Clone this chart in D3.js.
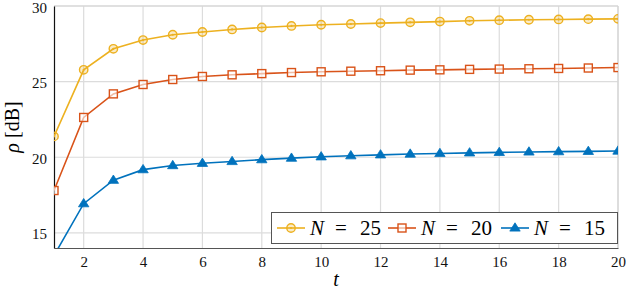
<!DOCTYPE html>
<html><head><meta charset="utf-8">
<script src="https://cdn.jsdelivr.net/npm/d3@7"></script>
<style>body{margin:0;background:#fff}svg{display:block}</style>
</head><body><svg id="c" width="626" height="290" font-family="Liberation Serif"></svg>
<script>
const t = [1,2,3,4,5,6,7,8,9,10,11,12,13,14,15,16,17,18,19,20];
const n25 = [21.38,25.78,27.17,27.75,28.1,28.28,28.45,28.58,28.68,28.76,28.81,28.87,28.92,28.97,29.02,29.06,29.09,29.11,29.13,29.15];
const n20 = [17.8,22.63,24.19,24.81,25.14,25.34,25.45,25.53,25.6,25.65,25.69,25.72,25.76,25.78,25.81,25.83,25.85,25.87,25.9,25.93];
const n15 = [13.5,16.93,18.48,19.18,19.45,19.6,19.72,19.84,19.94,20.03,20.1,20.16,20.21,20.25,20.29,20.32,20.35,20.37,20.39,20.41];
const xTicks = [2,4,6,8,10,12,14,16,18,20];
const yTicks = [15,20,25,30];
const seriesNames = ["25","20","15"];

const svg = d3.select("#c");
const L=54,R=618,T=6,B=248;
const x = d3.scaleLinear().domain([1,20]).range([L,R]);
const y = d3.scaleLinear().domain([14,30]).range([B,T]);
const FF = "Liberation Serif";

svg.append("defs").append("clipPath").attr("id","pc").append("rect")
  .attr("x",L).attr("y",T).attr("width",R-L).attr("height",B-T);

// grid
const g = svg.append("g");
g.selectAll(".vx").data(xTicks).join("line").attr("x1",d=>x(d)).attr("x2",d=>x(d)).attr("y1",T).attr("y2",B)
  .attr("stroke","#dcdcdc").attr("stroke-width",1.2);
g.selectAll(".hy").data(yTicks).join("line").attr("y1",d=>y(d)).attr("y2",d=>y(d)).attr("x1",L).attr("x2",R)
  .attr("stroke","#dcdcdc").attr("stroke-width",1.2);
g.append("line").attr("x1",L).attr("x2",R).attr("y1",T).attr("y2",T).attr("stroke","#d4d4d4").attr("stroke-width",1.2);
g.append("line").attr("x1",R).attr("x2",R).attr("y1",T).attr("y2",B).attr("stroke","#d4d4d4").attr("stroke-width",1.2);

// axes
const xa = d3.axisBottom(x).tickValues(xTicks).tickSize(0).tickPadding(8);
const ya = d3.axisLeft(y).tickValues(yTicks).tickSize(0).tickPadding(7);
const gx = svg.append("g").attr("transform",`translate(0,${B})`).call(xa);
gx.attr("font-family",FF).attr("font-size",15);
gx.select(".domain").attr("stroke","#555").attr("stroke-width",1.2);
gx.selectAll("text").attr("fill","#111");
const gy = svg.append("g").attr("transform",`translate(${L},0)`).call(ya);
gy.attr("font-family",FF).attr("font-size",15);
gy.select(".domain").attr("stroke","#111").attr("stroke-width",1.2);
gy.selectAll("text").attr("fill","#111").attr("dy","0.4em");

// labels
svg.append("text").attr("x",(L+R)/2).attr("y",286).attr("text-anchor","middle")
  .attr("font-family",FF).attr("font-size",20).attr("font-style","italic").text("t");
const yl = svg.append("text").attr("transform",`translate(19,${(T+B)/2}) rotate(-90)`).attr("text-anchor","middle")
  .attr("font-family",FF).attr("font-size",20);
yl.append("tspan").attr("font-style","italic").text("ρ");
yl.append("tspan").text(" [dB]");

const cols = ["#EDB120","#D95319","#0072BD"];
const data = [n25,n20,n15];
const line = d3.line().x((d,i)=>x(t[i])).y(d=>y(d));
const pg = svg.append("g").attr("clip-path","url(#pc)");

function marker(sel, k, cx, cy){
  const c = cols[k];
  if(k===0){
    sel.append("circle").attr("cx",cx).attr("cy",cy).attr("r",4.2).attr("fill",c).attr("fill-opacity",0.25).attr("stroke",c).attr("stroke-width",1.4);
    sel.append("circle").attr("cx",cx).attr("cy",cy).attr("r",1.1).attr("fill",c);
  } else if(k===1){
    sel.append("rect").attr("x",cx-4).attr("y",cy-4).attr("width",8).attr("height",8).attr("fill","#fff").attr("fill-opacity",0.6).attr("stroke",c).attr("stroke-width",1.4);
  } else {
    const s=5.2;
    sel.append("path").attr("d",`M${cx},${cy-s} L${cx+s},${cy+s*0.6} L${cx-s},${cy+s*0.6} Z`).attr("fill",c).attr("stroke",c).attr("stroke-width",0.8);
  }
}

data.forEach((arr,k)=>{
  pg.append("path").datum(arr).attr("d",line).attr("fill","none").attr("stroke",cols[k]).attr("stroke-width",1.6);
  arr.forEach((v,i)=>marker(pg,k,x(t[i]),y(v)));
});

// legend
const lg = svg.append("g");
lg.append("rect").attr("x",271.5).attr("y",212.5).attr("width",346).attr("height",31).attr("fill","#fff").attr("stroke","#555").attr("stroke-width",1);
const lx = [277,388,501];
seriesNames.forEach((nm,k)=>{
  const x0 = lx[k], yy = 228, s = x0+33, base = 235;
  lg.append("line").attr("x1",x0).attr("x2",x0+28).attr("y1",yy).attr("y2",yy).attr("stroke",cols[k]).attr("stroke-width",1.6);
  marker(lg,k,x0+14,yy);
  lg.append("text").attr("x",s).attr("y",base).attr("font-family",FF).attr("font-size",21).attr("font-style","italic").text("N");
  lg.append("text").attr("x",s+25).attr("y",base).attr("font-family",FF).attr("font-size",21).text("=");
  lg.append("text").attr("x",s+50).attr("y",base).attr("font-family",FF).attr("font-size",21).text(nm);
});
</script></body></html>
